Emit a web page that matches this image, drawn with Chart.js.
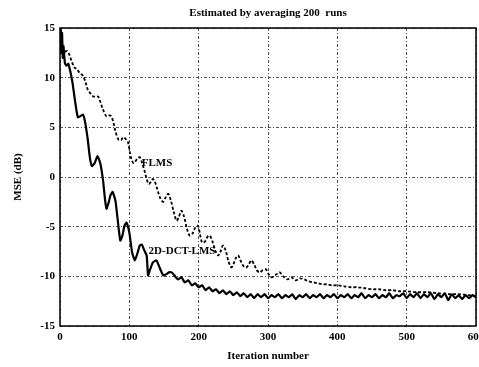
<!DOCTYPE html>
<html>
<head>
<meta charset="utf-8">
<script src="https://cdn.jsdelivr.net/npm/chart.js@4/dist/chart.umd.min.js"></script>
<style>
  html, body { margin: 0; padding: 0; background: #fff; overflow: hidden; }
  #wrap { width: 490px; height: 367px; }
</style>
</head>
<body>
<div id="wrap"><canvas id="mseChart" width="490" height="367"></canvas></div>
<script>
// Data
const xTicks = [0, 100, 200, 300, 400, 500, 600];
const yTicks = [-15, -10, -5, 0, 5, 10, 15];

// 2D-DCT-LMS (solid)
const dctIter = [0, 1, 2, 3, 4, 5, 7, 9, 12, 15, 18, 21, 24, 26, 29, 33, 36, 40, 43, 46, 50, 54, 58, 62, 65, 67, 70, 73, 76, 80, 84, 87, 90, 93, 96, 100, 104, 108, 112, 115, 118, 121, 125, 127, 130, 134, 139, 143, 146, 149, 153, 157, 161,
  165, 170, 175, 180, 185, 190, 195, 200, 205, 210, 215, 220, 225, 230, 235, 240, 245, 250, 255, 260, 265, 270, 275, 280, 285, 290, 295, 300,
  305, 310, 315, 320, 325, 330, 335, 340, 345, 350, 355, 360, 365, 370, 375, 380, 385, 390, 395, 400, 405, 410, 415, 420, 425, 430, 435, 440, 445, 450,
  455, 460, 465, 470, 475, 480, 485, 490, 495, 500, 505, 510, 515, 520, 525, 530, 535, 540, 545, 550, 555, 560, 565, 570, 575, 580, 585, 590, 595, 600];
const dctMse = [13.5, 15, 12.5, 14.5, 12, 13.2, 11.5, 11.2, 11.4, 10.6, 9.5, 8.0, 6.6, 6.0, 6.1, 6.3, 5.6, 3.8, 2.0, 1.1, 1.4, 2.1, 1.4, -0.3, -2.3, -3.2, -2.6, -1.8, -1.5, -2.4, -4.8, -6.4, -5.9, -4.9, -4.6, -5.6, -7.6, -8.4, -7.6, -6.9, -6.8, -7.3, -7.9, -9.9, -9.3, -8.6, -8.4, -9.0, -9.5, -9.9, -9.8, -9.6, -9.6,
  -9.9, -10.3, -10.1, -10.6, -10.4, -10.9, -10.7, -11.1, -10.9, -11.4, -11.1, -11.5, -11.3, -11.7, -11.4, -11.8, -11.5, -11.9, -11.6, -12.0, -11.7, -12.1, -11.8, -12.2, -11.8, -12.1, -11.8, -12.2,
  -11.9, -12.1, -11.8, -12.2, -11.9, -12.1, -11.8, -12.3, -11.9, -12.1, -11.8, -12.2, -11.9, -12.1, -11.8, -12.2, -11.9, -12.1, -11.8, -12.2, -11.9, -12.1, -11.8, -12.2, -11.9, -12.1, -11.7, -12.2, -11.9, -12.1,
  -11.8, -12.2, -11.9, -12.1, -11.7, -12.2, -11.9, -12.0, -11.7, -12.2, -11.8, -12.1, -11.7, -12.2, -11.8, -12.1, -11.7, -12.3, -11.8, -12.1, -11.7, -12.4, -11.8, -12.2, -11.9, -12.3, -11.9, -12.2, -11.9, -12.1];

// FLMS (dashed)
const flmsIter = [0, 2, 4, 7, 10, 13, 17, 21, 24, 28, 33, 37, 40, 43, 48, 52, 55, 58, 62, 67, 71, 74, 77, 80, 84, 88, 91, 94, 98, 101, 103, 106, 108, 111, 115, 118, 122, 125, 128, 131, 134, 137, 141, 145, 149, 152, 156, 160, 164, 168, 171, 175, 179, 183, 187, 191, 195, 199,
  202, 205, 209, 213, 216, 220, 224, 228, 231, 235, 239, 243, 247, 250, 254, 257, 261, 265, 269, 273, 276, 280, 284, 288, 292, 297, 301, 305, 310, 314, 317, 322, 328, 334, 340, 346, 352, 358, 365, 372, 378, 385, 392, 400,
  410, 420, 430, 440, 450, 460, 470, 480, 490, 500, 515, 530, 545, 560, 575, 590, 600];
const flmsMse = [14.5, 13.5, 12.8, 12.6, 12.7, 12.4, 11.6, 11.0, 10.9, 10.5, 10.2, 9.5, 8.8, 8.5, 8.1, 8.1, 8.1, 7.6, 6.8, 6.1, 6.2, 6.1, 5.5, 4.6, 3.8, 3.7, 4.0, 3.9, 3.5, 2.4, 1.8, 1.4, 1.5, 1.8, 2.0, 1.5, 0.6, -0.2, -0.7, -0.5, -0.2, -0.5, -1.4, -2.2, -2.5, -2.1, -1.7, -2.4, -3.5, -4.4, -4.1, -3.4, -4.0, -5.2, -5.9, -5.7, -5.1, -4.9,
  -5.8, -6.6, -6.5, -6.0, -5.9, -6.5, -7.4, -7.9, -7.6, -6.9, -7.4, -8.5, -9.1, -8.8, -8.1, -7.9, -8.5, -9.0, -9.1, -8.7, -8.4, -8.8, -9.4, -9.6, -9.4, -9.3, -9.8, -10.1, -9.9, -9.7, -9.6, -10.0, -10.3, -10.1, -10.4, -10.2, -10.3, -10.5, -10.6, -10.7, -10.8, -10.8, -10.9, -10.9,
  -11.0, -11.1, -11.1, -11.2, -11.3, -11.3, -11.4, -11.4, -11.5, -11.5, -11.6, -11.6, -11.7, -11.8, -11.8, -11.9, -12.0];

// Curve labels, placed in data coordinates
const curveLabels = [
  { text: 'FLMS', x: 140, y: 1.4 },
  { text: '2D-DCT-LMS', x: 176, y: -7.5 }
];

const serif = "'Liberation Serif', 'DejaVu Serif', serif";

// Frame round the plot and curve labels
const framePlugin = {
  id: 'frame',
  afterDatasetsDraw(chart) {
    const ctx = chart.ctx;
    const a = chart.chartArea;
    const xs = chart.scales.x;
    const ys = chart.scales.y;
    ctx.save();
    ctx.strokeStyle = '#000';
    ctx.lineWidth = 1.5;
    ctx.strokeRect(a.left, a.top, a.right - a.left, a.bottom - a.top);

    ctx.font = 'bold 11px ' + serif;
    ctx.fillStyle = '#000';
    ctx.textAlign = 'center';
    ctx.textBaseline = 'middle';
    curveLabels.forEach(l => {
      ctx.fillText(l.text, xs.getPixelForValue(l.x), ys.getPixelForValue(l.y));
    });
    ctx.restore();
  }
};

const ctx = document.getElementById('mseChart').getContext('2d');
new Chart(ctx, {
  type: 'line',
  data: {
    datasets: [
      {
        label: '2D-DCT-LMS',
        data: dctIter.map((x, i) => ({ x: x, y: dctMse[i] })),
        borderColor: '#000',
        borderWidth: 2.2,
        pointRadius: 0,
        tension: 0.15,
        fill: false
      },
      {
        label: 'FLMS',
        data: flmsIter.map((x, i) => ({ x: x, y: flmsMse[i] })),
        borderColor: '#000',
        borderWidth: 1.8,
        borderDash: [3, 2],
        pointRadius: 0,
        tension: 0.3,
        fill: false
      }
    ]
  },
  options: {
    responsive: false,
    animation: false,
    layout: { padding: { left: 0, right: 14, top: 0, bottom: 4 } },
    plugins: {
      legend: { display: false },
      tooltip: { enabled: false },
      title: {
        display: true,
        fullSize: false,
        text: 'Estimated by averaging 200  runs',
        color: '#000',
        font: { family: serif, size: 11, weight: 'bold', lineHeight: 1 },
        padding: { top: 8, bottom: 9 }
      }
    },
    scales: {
      x: {
        type: 'linear',
        min: 0,
        max: 600,
        afterBuildTicks: s => { s.ticks = xTicks.map(v => ({ value: v })); },
        afterFit: s => { s.height = 37; },
        ticks: {
          color: '#000',
          padding: 5,
          maxRotation: 0,
          font: { family: serif, size: 11, weight: 'bold' }
        },
        grid: {
          color: '#555',
          lineWidth: 1,
          drawTicks: false
        },
        border: { display: false, dash: [3, 2, 1, 2] },
        title: {
          display: true,
          text: 'Iteration number',
          color: '#000',
          font: { family: serif, size: 11, weight: 'bold' },
          padding: { top: 4, bottom: 0 }
        }
      },
      y: {
        type: 'linear',
        min: -15,
        max: 15,
        afterBuildTicks: s => { s.ticks = yTicks.map(v => ({ value: v })); },
        afterFit: s => { s.width = 60; },
        ticks: {
          color: '#000',
          padding: 5,
          font: { family: serif, size: 11, weight: 'bold' }
        },
        grid: {
          color: '#555',
          lineWidth: 1,
          drawTicks: false
        },
        border: { display: false, dash: [3, 2, 1, 2] },
        title: {
          display: true,
          text: 'MSE (dB)',
          color: '#000',
          font: { family: serif, size: 11, weight: 'bold' },
          padding: { top: 12, bottom: 0 }
        }
      }
    }
  },
  plugins: [framePlugin]
});
</script>
</body>
</html>
